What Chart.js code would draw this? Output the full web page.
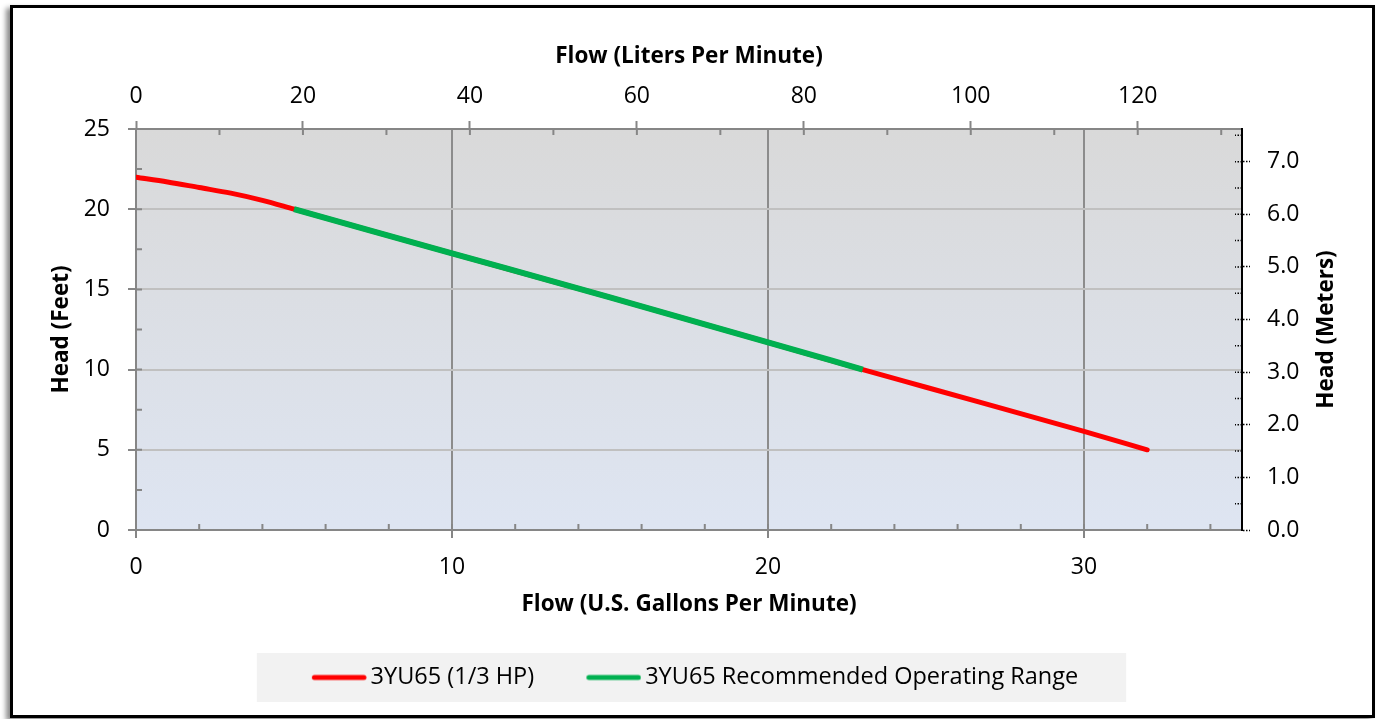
<!DOCTYPE html>
<html>
<head>
<meta charset="utf-8">
<script src="https://cdn.jsdelivr.net/npm/chart.js@4.4.1/dist/chart.umd.min.js"></script>
<style>
  html, body { margin: 0; padding: 0; background: #fff; }
  #frame {
    position: absolute; left: 10px; top: 5px;
    width: 1359px; height: 707px;
    border: 3px solid #000;
    box-shadow: -4px 3px 5px rgba(0, 0, 0, 0.45);
    background: #fff;
  }
  #frame canvas { display: block; }
</style>
</head>
<body>
<div id="frame"><canvas id="pumpChart" width="1359" height="707"></canvas></div>
<script>
// pump curve (GPM / feet)
const flowGpm = [0, 1, 2, 3, 4, 5, 10, 15, 20, 23, 25, 30, 32];
const headFeet = [22.0, 21.7, 21.35, 21.0, 20.55, 20.0, 17.25, 14.5, 11.7, 10.0, 8.9, 6.15, 5.0];
const rangeGpm = [5, 10, 15, 20, 23];
const rangeFeet = [20.0, 17.25, 14.5, 11.7, 10.0];
const seriesLabels = ["3YU65 (1/3 HP)", "3YU65 Recommended Operating Range"];

// small inside ticks
const gpmMinorTicks = [2, 4, 6, 8, 10, 12, 14, 16, 18, 20, 22, 24, 26, 28, 30, 32, 34];
const literMinorTicks = [10, 20, 30, 40, 50, 60, 70, 80, 90, 100, 110, 120, 130];
const feetMinorTicks = [2.5, 5, 7.5, 10, 12.5, 15, 17.5, 20, 22.5];
const meterMinorTicks = [0.5, 1, 1.5, 2, 2.5, 3, 3.5, 4, 4.5, 5, 5.5, 6, 6.5, 7, 7.5];

const GAL_TO_L = 3.785411784;
const FT_TO_M = 0.3048;

const tickFont = { size: 23 };
const titleFont = { size: 22.5, weight: "bold" };

Chart.defaults.font.family = '"Open Sans", sans-serif';
Chart.defaults.color = "#000";

// legend swatch: a short line sitting right next to its text
function legendSwatch(color) {
  const c = document.createElement("canvas");
  c.width = 72;
  c.height = 8;
  const g = c.getContext("2d");
  g.strokeStyle = color;
  g.lineWidth = 5;
  g.lineCap = "round";
  g.beginPath();
  g.moveTo(19.5, 4);
  g.lineTo(69, 4);
  g.stroke();
  return c;
}

const plotBackground = {
  id: "plotBackground",
  beforeDraw(chart) {
    const { ctx, chartArea: a } = chart;
    ctx.save();
    const g = ctx.createLinearGradient(0, a.top, 0, a.bottom);
    g.addColorStop(0, "#d9d9d9");
    g.addColorStop(1, "#dee5f2");
    ctx.fillStyle = g;
    ctx.fillRect(a.left, a.top, a.right - a.left, a.bottom - a.top);

    // grey band behind the legend
    const lg = chart.legend;
    if (lg && lg.legendHitBoxes && lg.legendHitBoxes.length) {
      const first = lg.legendHitBoxes[0];
      const last = lg.legendHitBoxes[lg.legendHitBoxes.length - 1];
      const cy = first.top + first.height / 2;
      const left = first.left - 46;
      ctx.fillStyle = "#f2f2f2";
      ctx.fillRect(left, cy - 24.5, last.left + last.width + 48 - left, 49);
    }
    ctx.restore();
  },
};

const innerTicks = {
  id: "innerTicks",
  beforeDatasetsDraw(chart) {
    const { ctx, chartArea: a, scales } = chart;
    ctx.save();
    ctx.strokeStyle = "#868686";
    ctx.lineWidth = 2;
    ctx.beginPath();
    gpmMinorTicks.forEach((v) => {
      const x = scales.x.getPixelForValue(v);
      ctx.moveTo(x, a.bottom);
      ctx.lineTo(x, a.bottom - 6);
    });
    literMinorTicks.forEach((v) => {
      const x = scales.x2.getPixelForValue(v);
      ctx.moveTo(x, a.top);
      ctx.lineTo(x, a.top + 6);
    });
    feetMinorTicks.forEach((v) => {
      const y = scales.y.getPixelForValue(v);
      ctx.moveTo(a.left, y);
      ctx.lineTo(a.left + 6, y);
    });
    ctx.stroke();

    ctx.strokeStyle = "#000";
    ctx.lineWidth = 1.5;
    ctx.setLineDash([1.5, 1.5]);
    ctx.beginPath();
    meterMinorTicks.forEach((v) => {
      const y = scales.y2.getPixelForValue(v);
      ctx.moveTo(a.right, y);
      ctx.lineTo(a.right - 7, y);
    });
    ctx.stroke();
    ctx.restore();
  },
};

// right-hand title reads bottom to top, Chart.js would turn it the other way
const rightTitle = {
  id: "rightTitle",
  afterDraw(chart) {
    const { ctx, chartArea: a } = chart;
    ctx.save();
    ctx.translate(chart.width - 45, (a.top + a.bottom) / 2);
    ctx.rotate(-Math.PI / 2);
    ctx.textAlign = "center";
    ctx.textBaseline = "middle";
    ctx.fillStyle = "#000";
    ctx.font = 'bold 22.5px "Open Sans", sans-serif';
    ctx.fillText("Head (Meters)", 0, 0);
    ctx.restore();
  },
};

const hideEdge = (edges, color) => (c) =>
  edges.includes(c.tick && c.tick.value) ? "rgba(0,0,0,0)" : color;

new Chart(document.getElementById("pumpChart"), {
  type: "line",
  data: {
    datasets: [
      {
        label: seriesLabels[0],
        data: flowGpm.map((x, i) => ({ x: x, y: headFeet[i] })),
        borderColor: "#ff0000",
        backgroundColor: "#ff0000",
        borderWidth: 5,
        borderCapStyle: "round",
        pointRadius: 0,
        pointStyle: legendSwatch("#ff0000"),
        cubicInterpolationMode: "monotone",
        order: 1,
      },
      {
        label: seriesLabels[1],
        data: rangeGpm.map((x, i) => ({ x: x, y: rangeFeet[i] })),
        borderColor: "#00b050",
        backgroundColor: "#00b050",
        borderWidth: 6,
        borderCapStyle: "butt",
        pointRadius: 0,
        pointStyle: legendSwatch("#00b050"),
        cubicInterpolationMode: "monotone",
        order: 0,
      },
    ],
  },
  options: {
    responsive: false,
    animation: false,
    layout: { padding: { left: 0, top: 31.5, right: 4, bottom: 15.75 } },
    plugins: {
      tooltip: { enabled: false },
      legend: {
        position: "bottom",
        labels: {
          usePointStyle: true,
          pointStyleWidth: 56,
          padding: 43.25,
          font: { size: 23.5 },
          color: "#000",
          sort: (a, b) => a.datasetIndex - b.datasetIndex,
        },
      },
    },
    scales: {
      x: {
        type: "linear",
        position: "bottom",
        min: 0,
        max: 35,
        afterFit: (s) => { s.height = 92.5; },
        ticks: { stepSize: 10, includeBounds: false, padding: 16, maxRotation: 0, font: tickFont, color: "#000" },
        grid: { color: hideEdge([0], "#8c8c8c"), lineWidth: 2, tickLength: 8, tickColor: "#868686", tickWidth: 2 },
        border: { color: "#868686", width: 2 },
        title: { display: true, text: "Flow (U.S. Gallons Per Minute)", font: titleFont, color: "#000" },
      },
      x2: {
        type: "linear",
        position: "top",
        min: 0,
        max: 35 * GAL_TO_L,
        afterFit: (s) => { s.height = 89.5; },
        ticks: { stepSize: 20, includeBounds: false, padding: 11, maxRotation: 0, font: tickFont, color: "#000" },
        grid: { drawOnChartArea: false, tickLength: 8, tickColor: "#868686", tickWidth: 2 },
        border: { color: "#868686", width: 2 },
        title: { display: true, text: "Flow (Liters Per Minute)", font: titleFont, color: "#000" },
      },
      y: {
        type: "linear",
        position: "left",
        min: 0,
        max: 25,
        afterFit: (s) => { s.width = 123; },
        ticks: { stepSize: 5, includeBounds: false, padding: 18, font: tickFont, color: "#000" },
        grid: { color: hideEdge([0, 25], "#c0c0c0"), lineWidth: 2, tickLength: 8, tickColor: "#868686", tickWidth: 2 },
        border: { color: "#868686", width: 2 },
        title: { display: true, text: "Head (Feet)", font: titleFont, color: "#000", padding: { top: 35.5, bottom: 4 } },
      },
      y2: {
        type: "linear",
        position: "right",
        min: 0,
        max: 25 * FT_TO_M,
        afterFit: (s) => { s.width = 126; },
        ticks: { stepSize: 1, includeBounds: false, padding: 17, font: tickFont, color: "#000", callback: (v) => v.toFixed(1) },
        grid: { drawOnChartArea: false, tickLength: 8, tickColor: "#000", tickWidth: 1.5, tickBorderDash: [1.5, 1.5] },
        border: { color: "#000", width: 2 },
      },
    },
  },
  plugins: [plotBackground, innerTicks, rightTitle],
});
</script>
</body>
</html>
